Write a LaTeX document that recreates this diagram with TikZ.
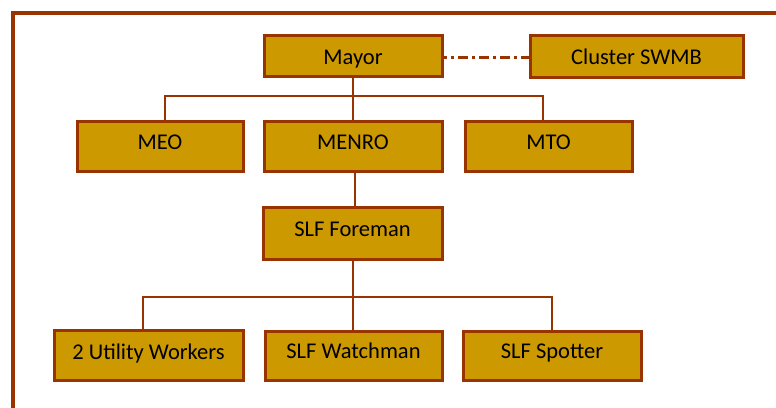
\documentclass[tikz,border=0pt]{standalone}
\usepackage{fontspec}
\setmainfont{Carlito}
\definecolor{boxfill}{HTML}{CC9900}
\definecolor{boxline}{HTML}{993300}
\tikzset{
  orgbox/.style={draw=boxline, fill=boxfill, line width=3pt, inner sep=0pt,
    font=\fontsize{22.5}{27}\selectfont, text=black, text height=14.5pt, text depth=0pt},
  link/.style={draw=boxline, line width=2pt},
  dashlink/.style={draw=boxline, line width=2.6pt, dash pattern=on 10pt off 4pt on 3pt off 4pt, dash phase=6.5pt},
}
\begin{document}
\begin{tikzpicture}[x=1pt,y=-1pt]
\useasboundingbox (0,0) rectangle (776,407);
% frame
\draw[boxline, line width=3.2pt] (13,420) -- (13,13) -- (790,13);
% bus coordinates
\coordinate (busA) at (353,96);
\coordinate (busB) at (353,297);
% boxes
\node[orgbox, minimum width=178pt, minimum height=41pt, text height=18.5pt] (mayor) at (353,55.5) {Mayor};
\node[orgbox, minimum width=213pt, minimum height=42pt, text height=16.9pt] (cluster) at (636.5,56) {Cluster SWMB};
\node[orgbox, minimum width=166pt, minimum height=50pt, text depth=8pt] (meo) at (160,146) {MEO};
\node[orgbox, minimum width=178pt, minimum height=50pt, text depth=8pt] (menro) at (353,146) {MENRO};
\node[orgbox, minimum width=167pt, minimum height=50pt, text depth=8pt] (mto) at (548.5,146) {MTO};
\node[orgbox, minimum width=179pt, minimum height=52pt, text depth=7pt] (foreman) at (352.5,233) {SLF Foreman};
\node[orgbox, minimum width=189pt, minimum height=50pt, text depth=6pt] (util) at (148.5,355) {2 Utility Workers};
\node[orgbox, minimum width=177pt, minimum height=49pt, text depth=7.6pt] (watch) at (353.5,355.5) {SLF Watchman};
\node[orgbox, minimum width=178pt, minimum height=49pt, text depth=7.6pt] (spot) at (552,355.5) {SLF Spotter};
% connectors
\draw[link] (mayor.south) -- (menro.north);
\draw[link] (busA) -| ([xshift=5pt]meo.north);
\draw[link] (busA) -| ([xshift=-5.5pt]mto.north);
\draw[link] ([xshift=2pt]menro.south) -- ([xshift=2.5pt]foreman.north);
\draw[link] ([xshift=0.5pt]foreman.south) -- ([xshift=-0.5pt]watch.north);
\draw[link] (busB) -| ([xshift=-5.5pt]util.north);
\draw[link] (busB) -| (spot.north);
\draw[dashlink] ([yshift=-2.2pt]mayor.east) -- ([yshift=-2.2pt]mayor.east -| cluster.west);
\end{tikzpicture}
\end{document}
